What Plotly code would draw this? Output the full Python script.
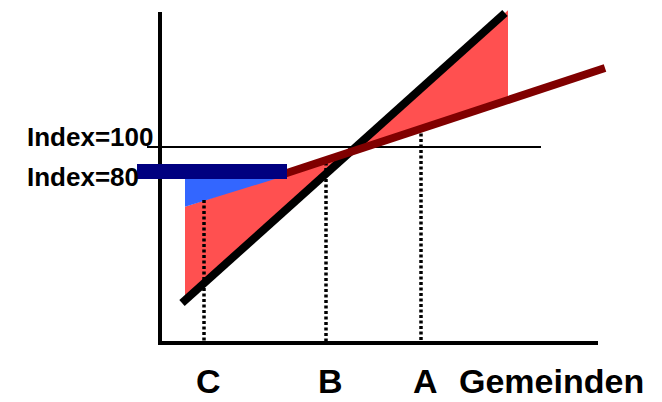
import plotly.graph_objects as go

# schematic in pixel-like units, origin where the axes meet
black_x = [22, 345]
black_y = [40, 330]

trend_x = [120, 445]
trend_y = [167.7, 275]

red_left_x = [25, 25, 190]
red_left_y = [136.3, 42.7, 190.8]
red_right_x = [190, 348, 348]
red_right_y = [190.8, 332.7, 242.9]

blue_x = [25, 25, 115]
blue_y = [164, 136.3, 164]

bar_x = [-23, 127]
bar_y = [171.5, 171.5]

index100_x = [-13, 381]
index100_y = [196, 196]

gemeinden = ["C", "B", "A"]
gem_x = [44, 166, 261]
gem_top = [143, 186, 215]

yaxis_x = [0, 0]
yaxis_y = [331, -2]
xaxis_x = [-2, 438]
xaxis_y = [0, 0]

font = "Liberation Sans, Arial, sans-serif"

fig = go.Figure()

fig.add_scatter(x=red_left_x, y=red_left_y, fill="toself", fillcolor="#ff5050",
                mode="none", hoverinfo="skip")
fig.add_scatter(x=red_right_x, y=red_right_y, fill="toself", fillcolor="#ff5050",
                mode="none", hoverinfo="skip")
fig.add_scatter(x=blue_x, y=blue_y, fill="toself", fillcolor="#3366ff",
                mode="none", hoverinfo="skip")

for gx, gt in zip(gem_x, gem_top):
    fig.add_scatter(x=[gx, gx], y=[gt, 0], mode="lines",
                    line=dict(color="black", width=3.5, dash="3px,2.5px"), hoverinfo="skip")

fig.add_scatter(x=index100_x, y=index100_y, mode="lines",
                line=dict(color="black", width=2), hoverinfo="skip")
fig.add_scatter(x=yaxis_x, y=yaxis_y, mode="lines",
                line=dict(color="black", width=4), hoverinfo="skip")
fig.add_scatter(x=xaxis_x, y=xaxis_y, mode="lines",
                line=dict(color="black", width=4), hoverinfo="skip")

fig.add_scatter(x=black_x, y=black_y, mode="lines",
                line=dict(color="black", width=8), hoverinfo="skip")
fig.add_scatter(x=trend_x, y=trend_y, mode="lines",
                line=dict(color="#800000", width=8), hoverinfo="skip")
fig.add_scatter(x=bar_x, y=bar_y, mode="lines",
                line=dict(color="#000080", width=15), hoverinfo="skip")

# labels
fig.add_annotation(x=-135, y=206, text="<b>Index=100</b>", xanchor="left", yanchor="middle",
                   showarrow=False, font=dict(family=font, size=26, color="black"))
fig.add_annotation(x=-135, y=166.5, text="<b>Index=80</b>", xanchor="left", yanchor="middle",
                   showarrow=False, font=dict(family=font, size=26, color="black"))
for name, gx in zip(gemeinden, gem_x):
    fig.add_annotation(x=gx + 4, y=-38, text="<b>%s</b>" % name, xanchor="center",
                       yanchor="middle", showarrow=False,
                       font=dict(family=font, size=34, color="black"))
fig.add_annotation(x=391, y=-38, text="<b>Gemeinden</b>", xanchor="center",
                   yanchor="middle", showarrow=False,
                   font=dict(family=font, size=34, color="black"))

# the page adds an 8px body margin, so the figure is 8px smaller each way
fig.update_layout(
    width=654, height=394,
    margin=dict(l=0, r=0, t=0, b=0),
    paper_bgcolor="white", plot_bgcolor="white",
    showlegend=False,
    xaxis=dict(range=[-152, 502], visible=False, fixedrange=True),
    yaxis=dict(range=[-59, 335], visible=False, fixedrange=True),
)

fig.write_html("out.html")
